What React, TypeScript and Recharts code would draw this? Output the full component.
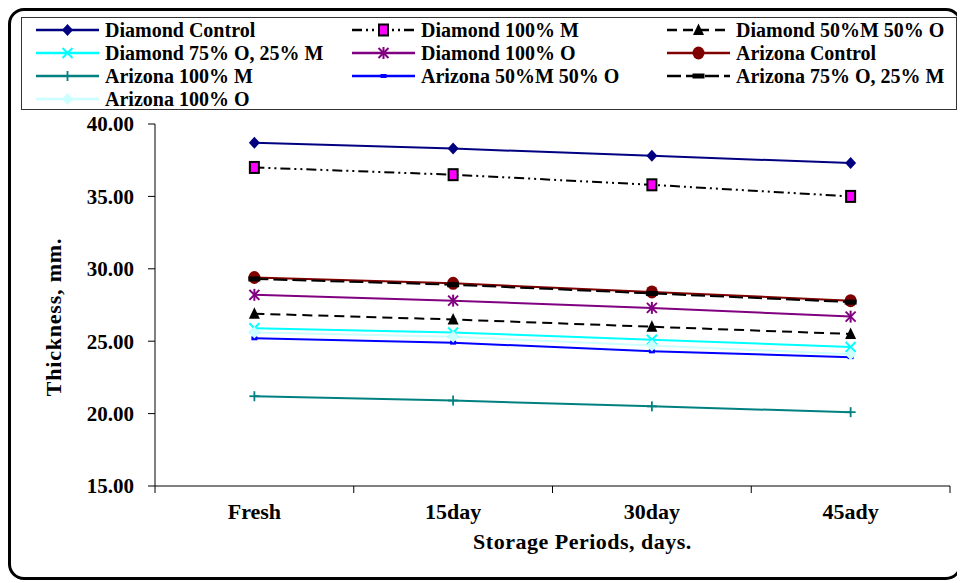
import { Label, Line, LineChart, XAxis, YAxis } from 'recharts'

const periods = ['Fresh', '15day', '30day', '45ady']
const yTicks = [15, 20, 25, 30, 35, 40]

const diamondControl = [38.7, 38.3, 37.8, 37.3]
const diamond100M = [37.0, 36.5, 35.8, 35.0]
const diamond50M50O = [26.9, 26.5, 26.0, 25.5]
const diamond75O25M = [25.9, 25.6, 25.1, 24.6]
const diamond100O = [28.2, 27.8, 27.3, 26.7]
const arizonaControl = [29.4, 29.0, 28.4, 27.8]
const arizona100M = [21.2, 20.9, 20.5, 20.1]
const arizona50M50O = [25.2, 24.9, 24.3, 23.9]
const arizona75O25M = [29.3, 28.9, 28.3, 27.7]
const arizona100O = [25.6, 25.3, 24.7, 24.1]

const FONT = '"Liberation Serif", "Times New Roman", serif'

type MarkerKind =
  | 'diamond'
  | 'square'
  | 'triangle'
  | 'x'
  | 'asterisk'
  | 'circle'
  | 'plus'
  | 'smallbar'
  | 'bar'

interface SeriesDef {
  key: string
  name: string
  values: number[]
  color: string
  dash?: string
  marker: MarkerKind
  markerFill: string
}

const series: SeriesDef[] = [
  { key: 'dc', name: 'Diamond Control', values: diamondControl, color: '#000080', marker: 'diamond', markerFill: '#000080' },
  { key: 'd100m', name: 'Diamond 100% M', values: diamond100M, color: '#000000', dash: '10 4 2 4 2 4', marker: 'square', markerFill: '#ff00ff' },
  { key: 'd50', name: 'Diamond 50%M 50% O', values: diamond50M50O, color: '#000000', dash: '10 6', marker: 'triangle', markerFill: '#000000' },
  { key: 'd75', name: 'Diamond 75% O, 25% M', values: diamond75O25M, color: '#00ffff', marker: 'x', markerFill: '#00ffff' },
  { key: 'd100o', name: 'Diamond 100% O', values: diamond100O, color: '#800080', marker: 'asterisk', markerFill: '#800080' },
  { key: 'ac', name: 'Arizona Control', values: arizonaControl, color: '#800000', marker: 'circle', markerFill: '#800000' },
  { key: 'a100m', name: 'Arizona 100% M', values: arizona100M, color: '#008080', marker: 'plus', markerFill: '#008080' },
  { key: 'a50', name: 'Arizona 50%M 50% O', values: arizona50M50O, color: '#0000ff', marker: 'smallbar', markerFill: '#0000ff' },
  { key: 'a75', name: 'Arizona 75% O, 25% M', values: arizona75O25M, color: '#000000', dash: '14 5', marker: 'bar', markerFill: '#000000' },
  { key: 'a100o', name: 'Arizona 100% O', values: arizona100O, color: '#ccffff', marker: 'diamond', markerFill: '#ccffff' },
]

const data = periods.map((p, i) => {
  const row: Record<string, string | number> = { period: p }
  series.forEach((s) => {
    row[s.key] = s.values[i]
  })
  return row
})

function Marker({ kind, cx, cy, fill }: { kind: MarkerKind; cx: number; cy: number; fill: string }) {
  switch (kind) {
    case 'diamond':
      return <polygon points={`${cx},${cy - 6} ${cx + 5.5},${cy} ${cx},${cy + 6} ${cx - 5.5},${cy}`} fill={fill} />
    case 'square':
      return <rect x={cx - 4.5} y={cy - 5.5} width={9} height={11} fill={fill} stroke="#000" strokeWidth={2} />
    case 'triangle':
      return <polygon points={`${cx},${cy - 6.5} ${cx + 5.5},${cy + 5} ${cx - 5.5},${cy + 5}`} fill={fill} />
    case 'x':
      return (
        <g stroke={fill} strokeWidth={2}>
          <line x1={cx - 5} y1={cy - 5} x2={cx + 5} y2={cy + 5} />
          <line x1={cx - 5} y1={cy + 5} x2={cx + 5} y2={cy - 5} />
        </g>
      )
    case 'asterisk':
      return (
        <g stroke={fill} strokeWidth={2}>
          <line x1={cx - 5} y1={cy - 5} x2={cx + 5} y2={cy + 5} />
          <line x1={cx - 5} y1={cy + 5} x2={cx + 5} y2={cy - 5} />
          <line x1={cx} y1={cy - 6} x2={cx} y2={cy + 6} />
        </g>
      )
    case 'circle':
      return <ellipse cx={cx} cy={cy} rx={6} ry={6.5} fill={fill} />
    case 'plus':
      return (
        <g stroke={fill} strokeWidth={1.8}>
          <line x1={cx - 5} y1={cy} x2={cx + 5} y2={cy} />
          <line x1={cx} y1={cy - 5} x2={cx} y2={cy + 5} />
        </g>
      )
    case 'smallbar':
      return <rect x={cx - 3} y={cy - 2} width={6} height={4} fill={fill} />
    case 'bar':
      return <rect x={cx - 6} y={cy - 2.5} width={12} height={5} fill={fill} />
  }
  return null
}

const CHART_W = 954
const CHART_H = 572
const PLOT_LEFT = 147
const PLOT_RIGHT = 942
const PLOT_TOP = 116
const PLOT_BOTTOM = 478
const Y_AXIS_W = 100
const X_AXIS_H = 70
const band = (PLOT_RIGHT - PLOT_LEFT) / periods.length

function XTick(props: any) {
  const { x, payload, index } = props
  const y = PLOT_BOTTOM
  const left = x - band / 2
  return (
    <g>
      <line x1={left} y1={y} x2={left} y2={y + 7} stroke="#000" />
      {index === periods.length - 1 && <line x1={x + band / 2} y1={y} x2={x + band / 2} y2={y + 7} stroke="#000" />}
      <text x={x} y={y + 33} textAnchor="middle" fontFamily={FONT} fontWeight="bold" fontSize={22} fill="#000">
        {payload.value}
      </text>
    </g>
  )
}

function Legend() {
  const cols = [14, 330, 645]
  const rows = [12, 35, 58, 81]
  return (
    <div
      style={{
        position: 'absolute',
        left: 13,
        top: 9,
        width: 936,
        height: 93,
        border: '1px solid #333',
        background: '#fff',
        boxSizing: 'border-box',
      }}
    >
      {series.map((s, i) => (
        <div
          key={s.key}
          style={{
            position: 'absolute',
            left: cols[i % 3],
            top: rows[Math.floor(i / 3)] - 11,
            height: 22,
            display: 'flex',
            alignItems: 'center',
            whiteSpace: 'nowrap',
          }}
        >
          <svg width={63} height={22}>
            <line x1={0} y1={11} x2={63} y2={11} stroke={s.color} strokeWidth={2.5} strokeDasharray={s.dash} />
            <Marker kind={s.marker} cx={31.5} cy={11} fill={s.markerFill} />
          </svg>
          <span style={{ marginLeft: 6, fontFamily: FONT, fontWeight: 'bold', fontSize: 20, color: '#000' }}>
            {s.name}
          </span>
        </div>
      ))}
    </div>
  )
}

export default function App() {
  return (
    <div style={{ position: 'relative', width: CHART_W, height: CHART_H }}>
      <LineChart
        width={CHART_W}
        height={CHART_H}
        data={data}
        margin={{
          top: PLOT_TOP,
          right: CHART_W - PLOT_RIGHT,
          bottom: CHART_H - PLOT_BOTTOM - X_AXIS_H,
          left: PLOT_LEFT - Y_AXIS_W,
        }}
      >
        <XAxis
          dataKey="period"
          height={X_AXIS_H}
          padding={{ left: band / 2, right: band / 2 }}
          axisLine={{ stroke: '#000' }}
          tickLine={false}
          tick={<XTick />}
          interval={0}
        >
          <Label
            content={() => (
              <text
                x={PLOT_LEFT + (PLOT_RIGHT - PLOT_LEFT) / 2 + 30}
                y={PLOT_BOTTOM + 63}
                textAnchor="middle"
                fontFamily={FONT}
                fontWeight="bold"
                fontSize={22}
                letterSpacing={0.5}
                fill="#000"
              >
                Storage Periods, days.
              </text>
            )}
          />
        </XAxis>
        <YAxis
          width={Y_AXIS_W}
          domain={[15, 40]}
          ticks={yTicks}
          tickFormatter={(v: number) => v.toFixed(2)}
          axisLine={{ stroke: '#000' }}
          tickLine={{ stroke: '#000' }}
          tickSize={7}
          tickMargin={14}
          tick={{ fontFamily: FONT, fontWeight: 'bold', fontSize: 21, fill: '#000' }}
        >
          <Label
            content={({ viewBox }: any) => {
              const lx = viewBox.x - 2
              const ly = viewBox.y + viewBox.height / 2 + 12
              return (
                <text
                  x={lx}
                  y={ly}
                  transform={`rotate(-90, ${lx}, ${ly})`}
                  textAnchor="middle"
                  dominantBaseline="central"
                  fontFamily={FONT}
                  fontWeight="bold"
                  fontSize={22}
                  letterSpacing={0.8}
                  fill="#000"
                >
                  Thickness, mm.
                </text>
              )
            }}
          />
        </YAxis>
        {series.map((s) => (
          <Line
            key={s.key}
            dataKey={s.key}
            name={s.name}
            stroke={s.color}
            strokeWidth={2}
            strokeDasharray={s.dash}
            isAnimationActive={false}
            dot={(p: any) => (
              <Marker key={`${s.key}-${p.index}`} kind={s.marker} cx={p.cx} cy={p.cy} fill={s.markerFill} />
            )}
            activeDot={false}
          />
        ))}
      </LineChart>
      <Legend />
      <div
        style={{
          position: 'absolute',
          inset: 0,
          border: '3px solid #000',
          borderRadius: 16,
          pointerEvents: 'none',
        }}
      />
    </div>
  )
}
